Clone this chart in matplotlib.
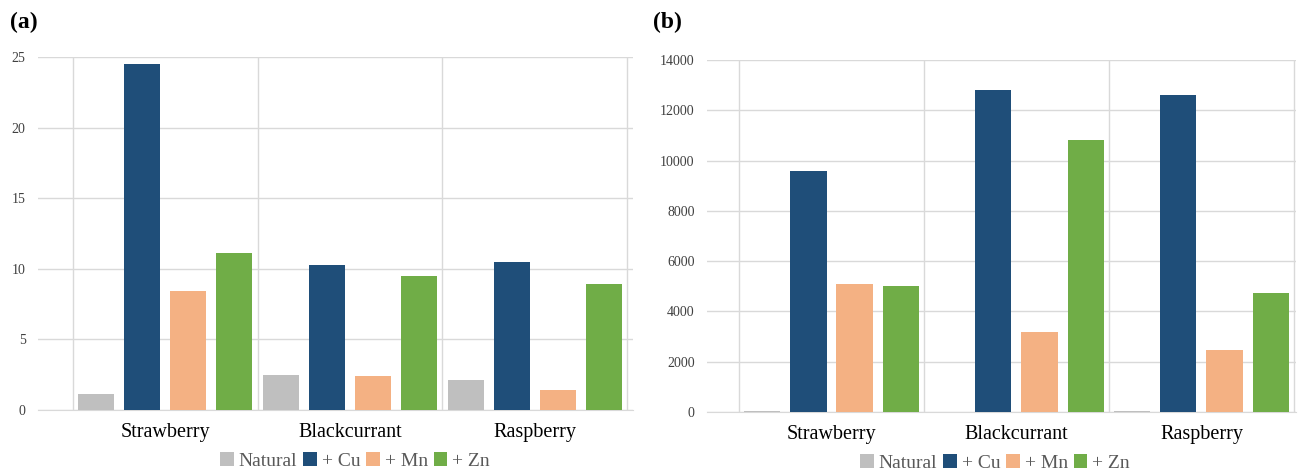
import matplotlib
matplotlib.use('Agg')
import matplotlib.pyplot as plt
import numpy as np

plt.rcParams['font.family'] = ['Liberation Serif', 'DejaVu Serif']

fruits = ['Strawberry', 'Blackcurrant', 'Raspberry']
series = ['Natural', '+ Cu', '+ Mn', '+ Zn']
colors = ['#bfbfbf', '#1f4e79', '#f4b183', '#70ad47']

# panel (a)
natural_a = [1.1, 2.5, 2.1]
cu_a = [24.5, 10.25, 10.5]
mn_a = [8.4, 2.4, 1.45]
zn_a = [11.1, 9.5, 8.95]

# panel (b)
natural_b = [50, 15, 40]
cu_b = [9600, 12800, 12600]
mn_b = [5100, 3200, 2450]
zn_b = [5000, 10800, 4750]

W, H = 1298, 473
fig = plt.figure(figsize=(W / 100, H / 100), dpi=100)


def px_axes(left, right, top, bottom):
    return fig.add_axes([left / W, 1 - bottom / H, (right - left) / W, (bottom - top) / H])


def draw(ax, data, ymax, ystep, xlim, legend_x):
    x = np.arange(len(fruits))
    step = 0.249
    width = 0.195
    for i, (vals, c, name) in enumerate(zip(data, colors, series)):
        ax.bar(x + (i - 1.5) * step, vals, width, color=c, label=name, zorder=3)
    ax.set_ylim(0, ymax)
    ax.set_xlim(*xlim)
    ax.set_yticks(np.arange(0, ymax + 1, ystep))
    ax.yaxis.grid(True, color='#d9d9d9', lw=1, zorder=0)
    for s in [-0.5, 0.5, 1.5, 2.5]:
        ax.axvline(s, color='#d9d9d9', lw=1, zorder=1)
    for sp in ['top', 'right', 'left']:
        ax.spines[sp].set_visible(False)
    ax.spines['bottom'].set_color('#d9d9d9')
    ax.set_xticks(x)
    ax.set_xticklabels(fruits, fontsize=14.5, color='black')
    ax.tick_params(axis='x', length=0, pad=9)
    ax.tick_params(axis='y', length=0, pad=9, labelsize=10, labelcolor='#404040')
    ax.legend(loc='center', bbox_to_anchor=(legend_x, -0.145), ncol=4, frameon=False,
              fontsize=14, labelcolor='#595959', handlelength=0.7, handleheight=0.7,
              handletextpad=0.25, columnspacing=0.3, borderaxespad=0)


ax1 = px_axes(38, 633, 57, 410)
draw(ax1, [natural_a, cu_a, mn_a, zn_a], 25, 5, (-0.689, 2.532), (355 - 38) / (633 - 38))
ax2 = px_axes(707, 1296, 60, 412)
draw(ax2, [natural_b, cu_b, mn_b, zn_b], 14000, 2000, (-0.673, 2.511), (995 - 707) / (1296 - 707))

fig.text(10 / W, 1 - 22 / H, '(a)', fontsize=17, fontweight='bold', va='center', ha='left')
fig.text(653 / W, 1 - 22 / H, '(b)', fontsize=17, fontweight='bold', va='center', ha='left')

fig.savefig('out.png', dpi=100)
